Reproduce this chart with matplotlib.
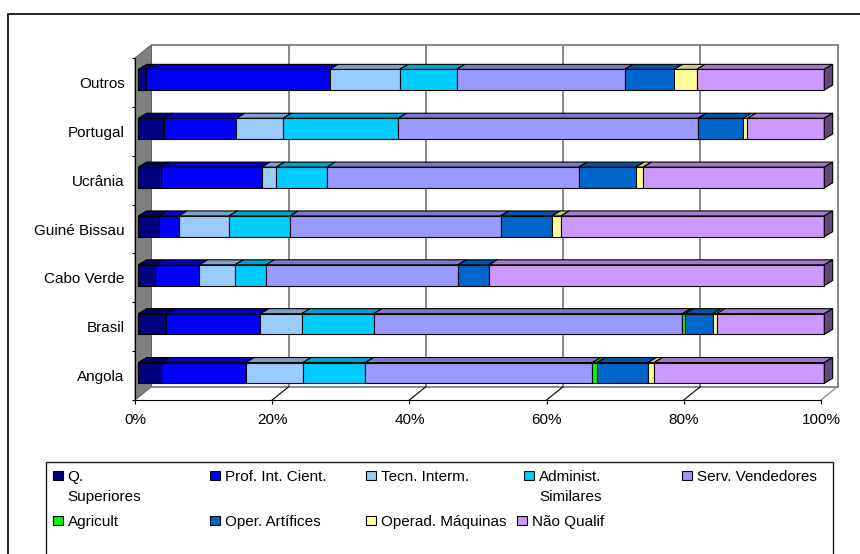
import matplotlib
matplotlib.use("Agg")
import matplotlib.pyplot as plt
from matplotlib.patches import Polygon, Rectangle
from matplotlib.colors import to_rgb
import numpy as np

plt.rcParams['font.family'] = ['Liberation Sans', 'DejaVu Sans']

# Occupation profile (%) per nationality, bottom to top
categories = ["Angola", "Brasil", "Cabo Verde", "Guiné Bissau", "Ucrânia", "Portugal", "Outros"]

q_superiores = [3.3, 4.1, 2.4, 3.0, 3.3, 3.7, 1.1]
prof_int_cient = [12.4, 13.7, 6.5, 2.9, 14.7, 10.6, 26.8]
tecn_interm = [8.3, 6.0, 5.2, 7.3, 2.1, 6.8, 10.2]
administ_similares = [9.1, 10.5, 4.5, 8.9, 7.4, 16.8, 8.3]
serv_vendedores = [33.1, 45.0, 28.0, 30.7, 36.7, 43.7, 24.5]
agricult = [0.7, 0.4, 0.0, 0.0, 0.0, 0.0, 0.0]
oper_artifices = [7.4, 4.1, 4.5, 7.5, 8.3, 6.6, 7.2]
operad_maquinas = [0.9, 0.5, 0.0, 1.3, 1.1, 0.6, 3.3]
nao_qualif = [24.8, 15.7, 48.9, 38.4, 26.4, 11.2, 18.6]

series_labels = ["Q.\nSuperiores", "Prof. Int. Cient.", "Tecn. Interm.", "Administ.\nSimilares",
                 "Serv. Vendedores", "Agricult", "Oper. Artífices", "Operad. Máquinas", "Não Qualif"]
series_values = [q_superiores, prof_int_cient, tecn_interm, administ_similares, serv_vendedores,
                 agricult, oper_artifices, operad_maquinas, nao_qualif]
series_colors = ["#000080", "#0000FF", "#99CCFF", "#00CCFF", "#9999FF",
                 "#00FF00", "#0066CC", "#FFFF99", "#CC99FF"]

x_ticks = [0, 20, 40, 60, 80, 100]
x_tick_labels = ["0%", "20%", "40%", "60%", "80%", "100%"]

W, H = 860, 554
fig = plt.figure(figsize=(W / 100, H / 100), dpi=100)
fig.patch.set_facecolor("white")


def fx(px):
    return px / W


def fy(py):
    return 1 - py / H


# front plane of the plot box, in pixels
AX_L, AX_R, AX_T, AX_B = 135, 821, 58, 400
ax = fig.add_axes([fx(AX_L), fy(AX_B), (AX_R - AX_L) / W, (AX_B - AX_T) / H])
ax.set_xlim(0, 100)
ax.set_ylim(-0.5, len(categories) - 0.5)
ax.patch.set_visible(False)

ux = 100 / (AX_R - AX_L)
uy = len(categories) / (AX_B - AX_T)


def depth(dx_px, dy_px):
    return dx_px * ux, dy_px * uy


wall_dx, wall_dy = depth(16.5, 13.3)
front_dx, front_dy = depth(3.3, 2.7)
bar_dx, bar_dy = depth(8.4, 5.0)
y_lo, y_hi = -0.5, len(categories) - 0.5

GRID = "#808080"

# side wall
ax.add_patch(Polygon([(0, y_lo), (0, y_hi), (wall_dx, y_hi + wall_dy), (wall_dx, y_lo + wall_dy)],
                     closed=True, fc="#808080", ec="#606060", lw=0.7, clip_on=False, zorder=1))
# back wall grid and frame
for t in x_ticks[1:]:
    ax.plot([t + wall_dx] * 2, [y_lo + wall_dy, y_hi + wall_dy], color=GRID, lw=1.3,
            clip_on=False, zorder=1, solid_capstyle="butt")
ax.plot([wall_dx, 100 + wall_dx], [y_hi + wall_dy] * 2, color=GRID, lw=1.3, clip_on=False, zorder=1)
# floor
ax.plot([wall_dx, 100 + wall_dx], [y_lo + wall_dy] * 2, color=GRID, lw=1.3, clip_on=False, zorder=1)
for t in x_ticks[1:]:
    ax.plot([t, t + wall_dx], [y_lo, y_lo + wall_dy], color=("#000000" if t < 100 else GRID),
            lw=0.8, clip_on=False, zorder=1)


def shade(c, k):
    r, g, b = to_rgb(c)
    return (r * k, g * k, b * k)


h = 0.424
ypos = np.arange(len(categories))
lefts = np.zeros(len(categories))
for j, (vals, col) in enumerate(zip(series_values, series_colors)):
    vals = np.asarray(vals, dtype=float)
    mask = vals > 0
    ax.barh(ypos[mask] + front_dy, vals[mask], left=lefts[mask] + front_dx, height=h,
            color=col, edgecolor="black", linewidth=0.8, zorder=3, clip_on=False)
    for i in np.where(mask)[0]:
        l = lefts[i] + front_dx
        r = l + vals[i]
        yt = ypos[i] + h / 2 + front_dy
        ax.add_patch(Polygon([(l, yt), (r, yt), (r + bar_dx, yt + bar_dy), (l + bar_dx, yt + bar_dy)],
                             closed=True, fc=shade(col, 0.8), ec="black", lw=0.8,
                             clip_on=False, zorder=3))
    lefts += vals

# right end faces
for i in ypos:
    r = lefts[i] + front_dx
    yb = ypos[i] - h / 2 + front_dy
    yt = ypos[i] + h / 2 + front_dy
    ax.add_patch(Polygon([(r, yb), (r, yt), (r + bar_dx, yt + bar_dy), (r + bar_dx, yb + bar_dy)],
                         closed=True, fc=shade(series_colors[-1], 0.47), ec="black", lw=0.8,
                         clip_on=False, zorder=3))

# axes
for s in ["top", "right"]:
    ax.spines[s].set_visible(False)
for s in ["left", "bottom"]:
    ax.spines[s].set_color("black")
    ax.spines[s].set_linewidth(0.8)
    ax.spines[s].set_zorder(4)
ax.set_xticks(x_ticks, x_tick_labels)
ax.set_yticks(ypos, categories)
ax.set_yticks(np.arange(len(categories) + 1) - 0.5, minor=True)
ax.tick_params(axis="x", which="major", direction="out", length=3, width=0.8, pad=6,
               labelsize=11, colors="black")
ax.tick_params(axis="y", which="major", length=0, pad=7.5, labelsize=11, colors="black")
ax.tick_params(axis="y", which="minor", direction="out", length=2.2, width=0.8, colors="black")

# chart border
fig.patches.append(Rectangle((fx(8), fy(600)), 1.2, (600 - 14) / H, transform=fig.transFigure,
                             fill=False, ec="black", lw=1.2, zorder=0))

# legend box
fig.patches.append(Rectangle((fx(46), fy(600)), (833 - 46) / W, (600 - 462) / H,
                             transform=fig.transFigure, fill=False, ec="#202020", lw=1.0, zorder=0))

legend_slots = [(52.7, 481), (210, 481), (366, 481), (524, 481), (682, 481),
                (52.7, 526), (210, 526), (366, 526), (517, 526)]
for (mx, base), label, col in zip(legend_slots, series_labels, series_colors):
    fig.patches.append(Rectangle((fx(mx), fy(base - 1)), 10 / W, 9 / H, transform=fig.transFigure,
                                 fc=col, ec="black", lw=0.8))
    for k, line in enumerate(label.split("\n")):
        fig.text(fx(mx + 15), fy(base + 20 * k), line, fontsize=11, va="baseline", ha="left",
                 color="black")

fig.savefig("out.png", dpi=100)
